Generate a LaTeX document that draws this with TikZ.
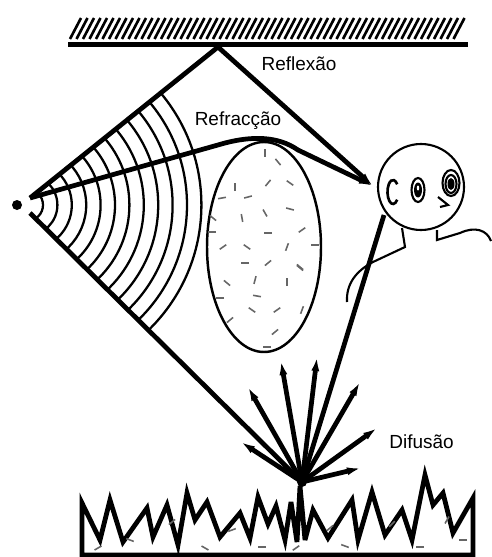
\documentclass[tikz,border=0pt]{standalone}
\usepackage{fontspec}
\setmainfont{Liberation Sans}
\usetikzlibrary{arrows.meta}
\begin{document}
\begin{tikzpicture}[x=0.02cm,y=-0.02cm,
  ray/.style={line width=2.7pt},
  wave/.style={line width=1.3pt},
  face/.style={line width=1.2pt},
  speck/.style={black!60,line width=0.9pt},
  tip/.style={-{Latex[length=8pt,width=4.6pt]}},
  lbl/.style={font=\fontsize{10.8}{13}\selectfont,inner sep=0pt,anchor=base}]
\useasboundingbox (0,0) rectangle (491,557);
\def\hx{7};
\def\hy{12};

\coordinate (src) at (17,205);
\coordinate (srcA) at (30,198);
\coordinate (srcB) at (30,213);
\coordinate (refl) at (218,47);
\coordinate (spot) at (302,482);
\coordinate (ear) at (373,186);
\coordinate (chin) at (384,215);
\coordinate (head) at (421,187);

\fill (68,42) rectangle (468,47);
\foreach \x in {70,76.5,...,457}
  \draw[line width=1.5pt] (\x,39) -- (\x+11,18);

\fill (src) circle[radius=5];
\begin{scope}
\clip (srcA) -- (refl) -- (420,205) -- (spot) -- (srcB) -- cycle;
\foreach \r in {16,30.4,...,176}
  \draw[wave] (27,205) circle[radius=\r];
\end{scope}

\draw[ray] (srcA) -- (refl);
\draw[ray,tip] (refl) -- (ear);
\draw[ray,tip] (srcA) -- (225,143) .. controls (252,136) and (278,136) .. (298,150) -- (ear);
\draw[ray] (srcB) -- (spot);
\draw[ray] (spot) -- (chin);
\foreach \p in {(241,442),(248,387),(281,361),(317,357),(360,382),(377,428),(361,468)}
  \draw[ray,tip] (spot) -- \p;
\fill (spot) circle[radius=5];

\draw[line width=1.4pt] (264,247) ellipse[x radius=57,y radius=105];
\foreach \x/\y/\a in {265/153/90,278/162/50,268/183/-50,290/183/35,235/187/90,222/198/-10,
  248/197/-15,290/209/15,265/213/60,242/218/80,213/218/40,302/230/-35,268/233/0,212/232/0,
  223/247/-35,247/247/35,287/247/-70,245/263/0,268/263/-40,300/267/40,227/283/40,255/280/-75,
  287/282/90,257/296/10,220/298/0,252/310/35,277/310/-35,302/310/-70,230/320/-40,275/332/-40,
  267/347/0,315/245/0,300/268/40}
  \draw[speck] (\x,\y) ++(\a:4) -- ++(\a+180:8);

\draw[face] (head) circle[radius=43];
\draw[line width=1.5pt] (397.2,199.7) arc[start angle=40,end angle=320,x radius=5.5,y radius=\hy];
\draw[face] (418,190) ellipse[x radius=6.5,y radius=\hy];
\fill (418,190) ellipse[x radius=4,y radius=7.5];
\fill[white] (418,188) ellipse[x radius=1.2,y radius=2.5];
\draw[face] (451,183) ellipse[x radius=8.5,y radius=13];
\draw[face] (451,184) ellipse[x radius=5.5,y radius=9];
\fill (451,184) ellipse[x radius=3.5,y radius=6];
\draw[face] (438,197) -- (448,205) -- (440,207);
\draw[face] (402,228) -- (405,247) -- (373,262) .. controls (356,271) and (346,284) .. (347,302);
\draw[face] (437,230) -- (437,240) -- (460,233) .. controls (475,226) and (487,230) .. (491,241);

\node[lbl] (reflexao) at (299,71) {Reflexão};
\node[lbl] (refraccao) at (238,126) {Refracção};
\node[lbl] (difusao) at (421.5,448) {Difusão};

\draw[line width=2.7pt,line join=miter,miter limit=5] (473,555) -- (82,555) -- (82,503) -- (100,540) -- (110,500)
  -- (123,542) -- (147,508) -- (153,537) -- (167,505) -- (178,545) -- (187,493) -- (195,520)
  -- (207,502) -- (220,537) -- (240,513) -- (250,538) -- (258,497) -- (268,524) -- (276,506)
  -- (285,540) -- (291,502) -- (297,542) -- (300,486) -- (305,540) -- (313,510) -- (328,538)
  -- (352,500) -- (358,540) -- (372,492) -- (385,535) -- (402,510) -- (412,540) -- (425,475)
  -- (433,505) -- (443,493) -- (453,533) -- (473,498) -- cycle;
\foreach \x/\y/\a in {98/548/-30,130/540/20,172/522/-40,205/548/30,232/530/-20,262/547/0,
  296/548/-35,330/528/-40,345/546/20,392/524/-45,420/547/0,447/520/-60,463/540/0}
  \draw[speck] (\x,\y) ++(\a:4) -- ++(\a+180:8);
\end{tikzpicture}
\end{document}
